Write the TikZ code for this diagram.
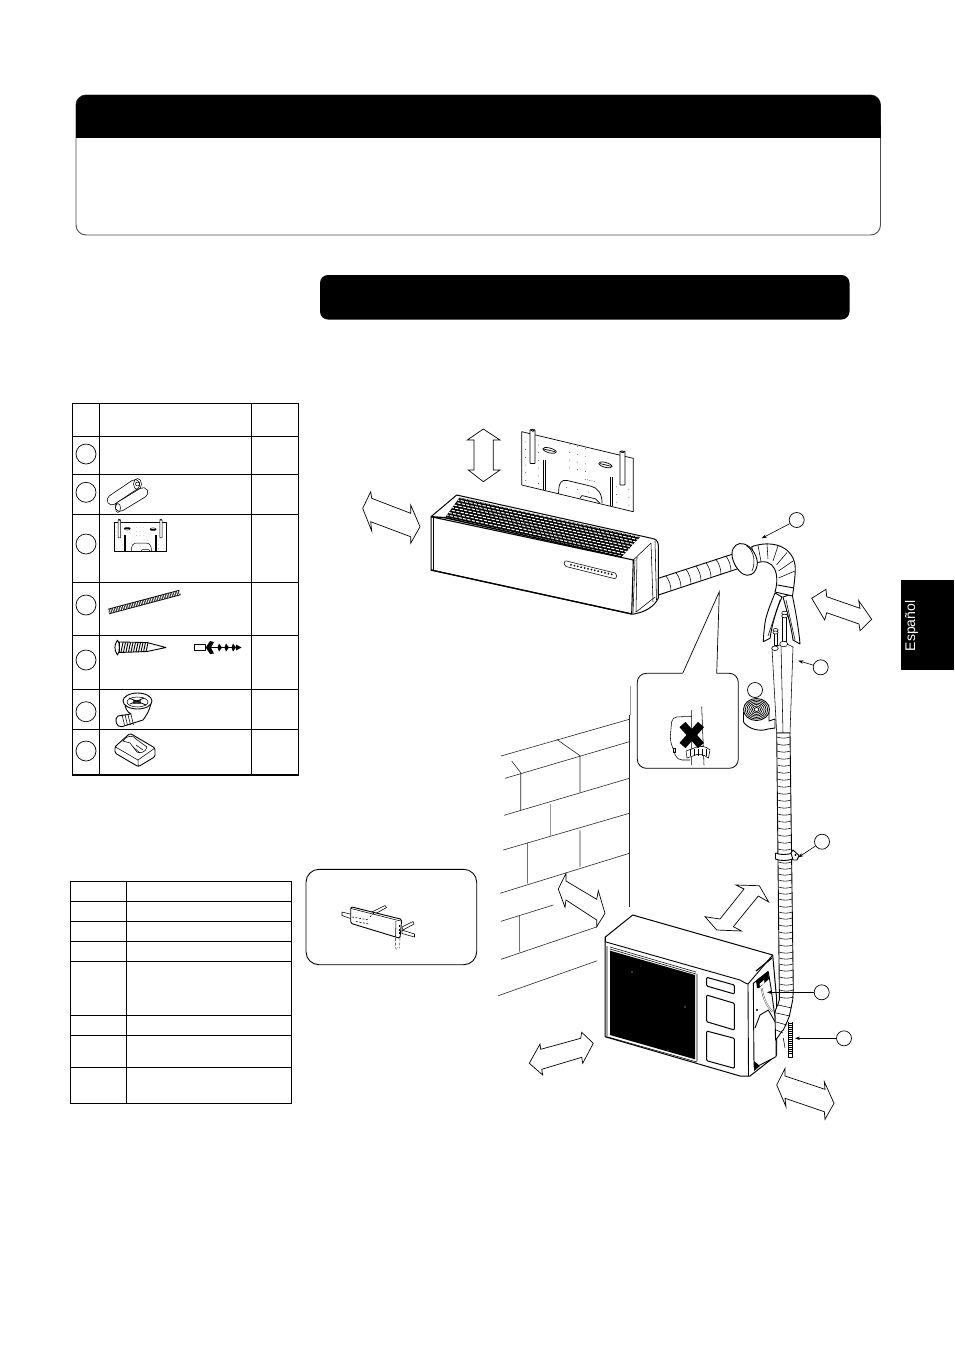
\documentclass[tikz,border=0pt]{standalone}
\usepackage{fontspec}
\setmainfont{Liberation Sans}
\usetikzlibrary{arrows.meta,shapes.geometric}
\tikzset{
  ln/.style={draw=black,line width=0.9pt,line join=round},
  thin ln/.style={draw=black,line width=0.55pt,line join=round},
  grid ln/.style={draw=black,line width=1pt},
  dbl/.style={draw=black,fill=white,line width=0.7pt,line join=miter},
  callout/.style={circle,draw=black,line width=0.7pt,fill=white,minimum size=15pt,inner sep=0pt},
  tcirc/.style={circle,draw=black,line width=0.7pt,fill=white,minimum size=20pt,inner sep=0pt},
  lead/.style={draw=black,line width=0.6pt,-{Stealth[length=5pt,width=3.5pt]}},
  wall/.style={draw=black!85,line width=0.6pt},
}
\newcommand{\plateshape}[2]{%
  \path[draw=black,fill=white,line width=#1pt,line join=round] (0,0.03)--(1,0.03)--(1,1)--(0,1)--cycle;
  \draw[line width=#1pt] (.33,1) .. controls (.33,.78) and (.36,.72) .. (.41,.72) -- (.62,.72) .. controls (.68,.72) and (.72,.80) .. (.72,.98);
  \draw[line width=#1pt] (.52,.99) -- (.54,.93) -- (.66,.93) -- (.70,.99);
  \path[draw=black,fill=white,line width=#1pt,rounded corners=0.5pt] (.075,-.04) rectangle (.12,.55);
  \path[draw=black,fill=white,line width=#1pt,rounded corners=0.5pt] (.88,-.04) rectangle (.925,.55);
  \draw[line width=#1pt,fill=white] (.097,-.04) circle[radius=.016];
  \draw[line width=#1pt,fill=white] (.90,-.04) circle[radius=.016];
  \draw[line width=#1pt] (.195,.45)--(.195,.99) (.215,.45)--(.215,.99) (.79,.47)--(.79,.99) (.81,.47)--(.81,.99);
  \draw[line width=#1pt] (.25,.25) ellipse[x radius=.06,y radius=.045] (.75,.27) ellipse[x radius=.06,y radius=.045];
  \draw[line width=#1pt] (.20,.25)--(.30,.25) (.70,.27)--(.80,.27);
  \foreach \v in {.2,.34,.48,.62,.76,.9}{\fill (.035,\v) circle[radius=#2] (.15,\v) circle[radius=#2];}
  \foreach \v in {.06,.2,.34,.48}{\fill (.43,\v) circle[radius=#2] (.50,\v) circle[radius=#2] (.57,\v) circle[radius=#2];}
  \foreach \v in {.62,.76,.9}{\fill (.85,\v) circle[radius=#2] (.96,\v) circle[radius=#2];}
  \fill (.50,.84) circle[radius=#2] (.40,.85) circle[radius=#2] (.6,.85) circle[radius=#2];
  \foreach \u in {.57,.59,.61,.63,.65}{\fill (\u,.62) circle[radius=#2];}
}
\begin{document}
\begin{tikzpicture}[x=1pt,y=-1pt]
\useasboundingbox (0,0) rectangle (954,1350);
\fill[white] (0,0) rectangle (954,1350);

% header box
\draw[draw=black!70,fill=white,line width=0.9pt,rounded corners=10pt] (76,95) rectangle (880.5,235);
\fill[black,rounded corners=10pt] (76,137) -- (76,95) -- (880.5,95) -- (880.5,137) -- cycle;
\fill[black] (76,125) rectangle (880.5,137.5);
% section bar
\fill[black,rounded corners=8pt] (320,275) rectangle (849.5,319.5);
% language tab
\fill[black] (901,580) rectangle (954,670);
\node[rotate=90,text=white,font=\fontsize{14}{14}\selectfont,inner sep=0] (tab) at (911.5,626) {Español};

% table 1
\draw[grid ln] (72.7,403.3) rectangle (298.3,775);
\draw[grid ln] (99.3,403.3)--(99.3,775) (251.7,403.3)--(251.7,775);
\foreach \yy in {436.3,474.3,514.3,582.3,635,689,729.3}{\draw[grid ln] (72.7,\yy)--(298.3,\yy);}
\draw[black,line width=2pt] (72.7,775)--(298.3,775);
\node[tcirc] (t1) at (86,454) {};
\node[tcirc] (t2) at (86,492.3) {};
\node[tcirc] (t3) at (86,544) {};
\node[tcirc] (t4) at (86,605) {};
\node[tcirc] (t5) at (86,660) {};
\node[tcirc] (t6) at (86,711.7) {};
\node[tcirc] (t7) at (86,751) {};

% batteries
\draw[black,line width=10.5pt,line cap=round] (112,500)--(135,484.5);
\draw[white,line width=9pt,line cap=round] (112,500)--(135,484.5);
\draw[thin ln] (137.5,484) ellipse[x radius=4,y radius=5.5];
\draw[thin ln] (137.5,484) circle[radius=2];
\draw[black,line width=10.5pt,line cap=round] (120,506.5)--(143,492.5);
\draw[white,line width=9pt,line cap=round] (120,506.5)--(143,492.5);
\draw[thin ln] (118,508) ellipse[x radius=2.5,y radius=4.5];
% small plate
\begin{scope}[shift={(114.3,521)},x={(51.7,0)},y={(0,30.7)}]
 \plateshape{0.5}{.005}
\end{scope}
% long screw
\draw[black,line width=5.5pt] (108.5,611.5)--(180,592.5);
\draw[white,line width=3.8pt,dash pattern=on 0.8pt off 0.9pt] (108.5,611.5)--(180,592.5);
% screw
\draw[ln,fill=white] (117.5,640) .. controls (114,645) and (114,650) .. (117.5,655) .. controls (120,653) and (120,642) .. (117.5,640);
\draw[ln,fill=white] (119.5,642) -- (147,642.5) -- (166,647.5) -- (147,651.5) -- (119.5,652.5) -- cycle;
\foreach \xx in {123,125.5,128,130.5,133,135.5,138,140.5,143,145.5,148}{\draw[black,line width=0.9pt] (\xx,642.5)--(\xx-2,652);}
% anchor
\draw[thin ln] (194.3,644.3) rectangle (205.7,650.7);
\draw[black,line width=1.4pt] (205.7,647.5)--(240,647.5);
\fill (241.5,647.5)--(236,644.5)--(236,650.5)--cycle;
\fill (205.7,647.5)--(210,641)--(214,642)--(211,647.5)--(214,653.5)--(210,654)--cycle;
\foreach \xx in {219,226,233}{\fill (\xx,643.5)--(\xx+3,647.5)--(\xx,651.5)--(\xx-1.5,647.5)--cycle;}
% drain elbow
\draw[ln,fill=white] (125,703) .. controls (125,708) and (127,712) .. (131,714) -- (118,716) .. controls (114,718) and (116,728) .. (121.7,726.7) -- (143,720)
  .. controls (146,716) and (150,710) .. (151,703) -- cycle;
\foreach \xx in {122,125,128,131}{\draw[thin ln] (\xx,714.5)--(\xx+2.5,725);}
\draw[ln,fill=white] (137.5,701) ellipse[x radius=14.5,y radius=8];
\draw[thin ln] (137.5,702) ellipse[x radius=10.5,y radius=5];
\fill[black!70] (133,700) rectangle (141,704);
\draw[black,line width=0.8pt] (129,698)--(146,705) (130,704)--(144,698);
% clip
\draw[ln,fill=white,rounded corners=1.5pt] (115,746.7) -- (130,733.3) -- (155,748) -- (155,756.7) -- (138.3,766.7) -- (115,753) -- cycle;
\draw[thin ln] (115,746.7) -- (138,760) -- (155,748) (138,760)--(138.3,766.7);
\draw[thin ln,fill=white] (123,741) .. controls (126,735) and (134,735) .. (136,739) -- (147,747) .. controls (146,752) and (140,754) .. (137,752) -- (130,743) -- cycle;
\draw[thin ln] (133,747)--(140,753) (136,745)--(143,750);

% table 2
\draw[grid ln] (70.7,881.7) rectangle (291.3,1103.3);
\draw[grid ln] (126.7,881.7)--(126.7,1103.3);
\foreach \yy in {901.3,921.3,941.3,961.3,1015.3,1035.3,1067.3}{\draw[grid ln] (70.7,\yy)--(291.3,\yy);}

% small piping box
\draw[draw=black,line width=0.9pt,rounded corners=13pt] (306,869.3) rectangle (476.7,964.7);
\begin{scope}
 \draw[thin ln,fill=white] (342,915.5)--(352,919) -- (352,914.5) -- (342,912) -- cycle;
 \draw[thin ln,fill=white] (372,912)--(385,905.5)--(386.5,907.5)--(375,914) -- cycle;
 \draw[thin ln,fill=white] (402,927) -- (413,921.5) -- (414,924) -- (403,930) -- cycle;
 \draw[thin ln,fill=white] (402,930) -- (414.5,934) -- (414.5,937) -- (402,933.5) -- cycle;
 \draw[ln,fill=white,rounded corners=1.5pt] (350.7,906.7) -- (401.7,919.3) -- (400,938.3) -- (350.7,923.3) -- cycle;
 \draw[thin ln] (351,908.5) -- (400.5,921);
 \draw[thin ln] (396,921)--(395.5,936.5);
 \draw[thin ln,dash pattern=on 2pt off 1.5pt] (352,917)--(369,920) (356,921.5)--(369,924) (370,917)--(374,913);
 \draw[thin ln,dash pattern=on 2pt off 1.5pt] (399.5,925)--(399.5,935);
 \draw[thin ln,draw=black!60,dash pattern=on 3pt off 1.5pt] (395.5,938)--(395.5,946) .. controls (395,950) and (397,950) .. (398,947);
 \draw[thin ln,draw=black!60,dash pattern=on 3pt off 1.5pt] (400,938)--(399.5,948);
\end{scope}

% wall
\draw[wall,draw=black!40] (630,686)--(630,715);
\draw[wall] (629.5,715)--(629.5,906.7);
\draw[wall] (501,756)--(629.3,719.3) (505,778.3)--(629.3,741.7) (504,815.3)--(629.3,778.3)
  (503.3,850)--(629.3,813.3) (500,893.3)--(629.3,853.3) (501,921.3)--(553.3,905)
  (501,959.3)--(597.3,926.7) (498.3,995.7)--(597.3,960.7);
\draw[wall] (556.7,739.3)--(580,755.7)--(580,792.7) (511.7,761)--(520.7,772.7)--(520.7,810)
  (527.3,842.7)--(527.3,883.3) (580,830.7)--(580,866.7) (519.3,916)--(519.3,951.7);
\draw[wall,draw=black!40] (550,804)--(550,836.7);

% wall plate (indoor)
\begin{scope}[shift={(521.7,430)},x={(111.6,26.7)},y={(0,55)}]
 \plateshape{0.7}{.005}
\end{scope}

% indoor unit
\draw[ln,line width=1pt,fill=white] (431,516.7) -- (456.7,495) -- (651.7,538.3) .. controls (656,539) and (658,541) .. (658.3,545)
  -- (658.3,598) .. controls (655,606) and (645,612) .. (636,613.5) .. controls (634,614.5) and (632,614) .. (631.7,614) -- (431,570) -- cycle;
\draw[line width=1.3pt,black] (431,570) -- (631.7,614);
\draw[line width=1.1pt,black] (431,516.7) -- (633.3,560) -- (631.7,614);
\draw[thin ln] (635,560)--(633,613) (637,557)--(636,612);
\draw[thin ln] (633.3,560) -- (651,543) -- (653,602);
\draw[thin ln] (655,541)--(656.5,600);
\draw[thin ln] (636,612)--(645,605) -- (655,597);
\draw[thin ln] (433,517.5)--(433,569.5);
% grille
\begin{scope}
 \clip (459.5,497.5) -- (640,537) -- (621.5,557) -- (445,517.7) -- cycle;
 \fill[black] (459.5,497.5) -- (640,537) -- (621.5,557) -- (445,517.7) -- cycle;
 \foreach \j in {0,...,8}{
   \draw[white,line width=1.1pt,dash pattern=on 3.2pt off 1.3pt,dash phase={mod(\j,3)*1.5pt}]
     ({459.5-\j*1.8},{497.5+\j*2.5}) -- ++(185,40.6);}
\end{scope}
\draw[line width=1.4pt] (431,516.7)--(445,517.7) (445,517.7)--(621.5,557);
% display
\draw[thin ln,rounded corners=2pt] (564.5,560.5) -- (617,573.5) -- (616,579) -- (564,566) -- cycle;
\foreach \i in {0,...,12}{\fill ({571+\i*3.4},{564.8+\i*0.8}) circle[radius=1];}

% connecting pipe
\draw[ln,fill=white] (658.3,578.3) -- (733,554) -- (740,568) -- (658.3,595) -- cycle;
\foreach \xx/\yy in {666/576,676/572.7,686/569.4,696/566.1,706/562.8,716/559.5,726/556.2}{
  \draw[thin ln] (\xx,\yy) .. controls (\xx+3,\yy+4) and (\xx+5,\yy+9) .. (\xx+5,\yy+15);}
\node[draw=black,line width=0.9pt,fill=white,ellipse,inner sep=0,minimum width=9pt,minimum height=14pt] (pe) at (739,561) {};

% pipes & flaps
\draw[thin ln,fill=white] (772,648) -- (776.7,733) -- (790,733) -- (793,647) -- (785,643) -- cycle;
\draw[thin ln] (781,645)--(783,733);
\draw[ln,fill=white] (775,593) .. controls (771,603) and (766,615) .. (765,623) .. controls (764,630) and (763.5,636) .. (763.3,641.7)
  -- (770,638.3) .. controls (772,625) and (776,610) .. (782,597) -- cycle;
\draw[thin ln] (768,636)--(773,621) -- (780,600);
\draw[ln,fill=white] (783,597) .. controls (786,608) and (791,625) .. (793,640) -- (800,644) .. controls (799,632) and (796,612) .. (792,594) -- cycle;
\draw[thin ln] (786,600) -- (795,640);
\draw[thin ln,fill=white] (782.7,613) rectangle (786.7,641);
\draw[thin ln,fill=white] (784.7,613) ellipse[x radius=3,y radius=1.8];
\draw[thin ln,fill=white] (784.7,616) ellipse[x radius=3,y radius=1.8];
\draw[thin ln,fill=white] (774,630) rectangle (777,645);
\draw[thin ln,fill=white] (775.5,630) ellipse[x radius=2.6,y radius=1.5];
\draw[thin ln,fill=white] (775.5,632.5) ellipse[x radius=2.6,y radius=1.5];
\draw[thin ln,fill=white] (775,648.3) ellipse[x radius=3.3,y radius=2.3];
\draw[thin ln,fill=white] (783.7,644) ellipse[x radius=4,y radius=2.8];

% elbow
\draw[ln,fill=white] (751.7,546.7) .. controls (770,540) and (792,545) .. (795,565) .. controls (796,572) and (794,585) .. (792.5,596)
  -- (775,592) .. controls (780,575) and (775,556) .. (755,563.3) -- cycle;
\foreach \xa/\ya/\xb/\yb in {758/545.5/761/561.5,767/544/768/559,778/546/773/561,787/552.5/776.5/565,793/561/778.5/571,795/571/778.5/578}{
  \draw[thin ln] (\xa,\ya) -- (\xb,\yb);}
\draw[ln] (777.5,585) -- (794,588);
\draw[ln,fill=white] (732,554) .. controls (732,546) and (738,542) .. (744,544) .. controls (752,546) and (759,558) .. (757,566)
  .. controls (755,575) and (748,577) .. (743,574) .. controls (738,571) and (732,562) .. (732,554) -- cycle;
\draw[thin ln] (746,545.5) .. controls (754,550) and (756,562) .. (752,571);

% coil
\draw[ln,fill=white] (743.5,712) -- (743.5,722) .. controls (748,729) and (760,732) .. (768,729) -- (775,728) -- (775,719) -- (769,721)  -- (769,711) -- cycle;
\draw[ln,fill=white] (756.5,709.5) ellipse[x radius=13,y radius=11];
\foreach \r in {2,3.5,5,6.5,8,9.5}{\draw[black,line width=0.7pt] (756.5,709.5) ellipse[x radius={\r*1.18},y radius=\r];}
\node[callout] (c3) at (755,690) {};

% indoor bubble
\draw[draw=black,line width=0.8pt,fill=white,rounded corners=9pt]
  (682.7,673.3) -- (637.3,673.3) -- (637.3,768.3) -- (738.3,768.3) -- (738.3,673.3) -- (716.7,673.3);
\coordinate (apex) at (719.3,591.7);
\draw[black,line width=0.7pt] (682.7,673.3) -- (apex) -- (716.7,673.3);
\draw[thin ln,rounded corners=5pt] (691.5,716.5) -- (672,717) -- (670,740) -- (677,760) -- (690,760);
\draw[thin ln] (691.7,710)--(691.7,765) (701.7,706.7)--(704,765);
\draw[thin ln] (673,748) rectangle (675,752);
\draw[thin ln,fill=white] (686,751) -- (693,748.5) .. controls (700,745) and (706,746) .. (710,750) -- (708.5,758) .. controls (703,754) and (698,753) .. (693,756) -- (687,758) -- cycle;
\foreach \xx in {690,694,698,702,706}{\draw[thin ln] (\xx,749)--(\xx,756);}
\draw[black,line width=8pt] (682.5,724.5)--(701,745.5) (701,724.5)--(682.5,745.5);

% outdoor unit
\draw[ln,line width=1pt,fill=white] (605,937.3) -- (632.7,915) -- (772.7,955) -- (776.7,1000) -- (776.7,1055) -- (750,1076) -- (740,1076) -- (605,1036.7) -- cycle;
\draw[ln] (605,941.7) -- (740,980) .. controls (745,983) and (747,984) .. (748,984) -- (772.7,955);
\draw[ln] (605,937.3) -- (605,941.7);
\draw[ln] (748,984)--(748.5,1076);
\draw[thin ln] (610,947)--(696,972) (610,949)--(696,974);
\fill[black] (610,950.7) -- (695,975) -- (695,1059.3) -- (610,1035) -- cycle;
\draw[thin ln] (607,946)--(607,1038) (697,974)--(697,1061) (608,1037)--(697,1062);
\fill[white] (632,972) circle[radius=0.7] (685,1007) circle[radius=0.6] (668,1050) circle[radius=0.5];
\draw[ln,line width=1pt,rounded corners=1pt] (706.7,977.3) -- (734.3,985) -- (734.3,994) -- (706.7,986) -- cycle;
\draw[ln,line width=1pt,rounded corners=1pt] (706.7,995) -- (734.3,1003.3) -- (734.3,1030) -- (706.7,1021.7) -- cycle;
\draw[ln,line width=1pt,rounded corners=1pt] (706.7,1031) -- (734.3,1038.3) -- (734.3,1068.3) -- (706.7,1060.7) -- cycle;
% valve cover
\draw[ln,fill=white] (753.3,983.3) -- (768.3,971.7) -- (771,988) -- (774,1010) -- (776,1022) -- (776,1056.7) -- (760,1065) -- (754,1066.7) -- cycle;
\draw[ln] (755,1028) -- (760,1015) -- (768.3,1010) -- (775,1021.7);
\fill[black] (756,980.5) -- (768,971) -- (769,979) -- (759,988) -- (757,988) -- cycle;
\fill[white] (759.5,984) -- (764,980) -- (764.5,983) -- (760,986.5) -- cycle;
\draw[black!60,line width=1.8pt] (761.7,988) .. controls (763,998) and (767,1007) .. (773,1011.7);
\draw[white,line width=0.7pt] (761.7,988) .. controls (763,998) and (767,1007) .. (773,1011.7);
\fill[black] (754,1061) -- (760,1066) -- (754,1071) -- cycle;
\fill[black] (757,1010) circle[radius=1.2];
\draw[black,line width=1.2pt] (772,958)--(756,971);

% hose
\draw[ln,fill=white] (776.7,733) -- (779.3,990) -- (779.3,1000) .. controls (778,1006) and (775,1009) .. (775,1013) -- (775.5,1040) .. controls (780,1035) and (782,1030) .. (783.3,1030)
  .. controls (786,1024) and (790,1016) .. (790,1013) -- (792.7,1000) -- (793.3,990) -- (790,733) -- cycle;
\foreach \yy in {737,744,751,758,765,772,779,786,793,800,807,814,821,828,835,842,849,862,868,874,880,887,893,899,906,912,918,925,932,938,945,952,958,964,970,977,984,990,997}{
  \draw[thin ln] ({777+(\yy-733)*0.0102},\yy) .. controls ({781+(\yy-733)*0.0102},\yy+1.5) and ({786+(\yy-733)*0.0128},\yy+1.5) .. ({790+(\yy-733)*0.0128},\yy);}
\draw[thin ln] (778,1005) -- (792,1008) (776,1013) -- (790,1016) (776,1022)--(787,1025) (776,1030)--(783,1033);
% clamp
\draw[ln,fill=white] (775.5,853) -- (775.5,859) .. controls (780,861) and (787,861) .. (792.5,859) -- (792.5,853) .. controls (787,855) and (780,855) .. (775.5,853);
\draw[ln,fill=white] (793,850) -- (799,855.5) -- (797,860) -- (793,860) -- (791,853) -- cycle;
\fill (795.5,855) circle[radius=1.2];
% drain hose
\draw[thin ln] (783.3,1038)--(785,1048);
\draw[black,line width=5.5pt] (790.5,1021.7)--(790.5,1055);
\draw[white,line width=3.8pt,dash pattern=on 1pt off 1pt] (790.5,1021.7)--(790.5,1055);
\draw[thin ln] (788.5,1055) -- (788.5,1057.5) -- (792.5,1057.5) -- (792.5,1055);

% callouts
\node[callout] (c1) at (796.7,520) {};
\node[callout] (c2) at (820.7,667.3) {};
\node[callout] (c4) at (822,841.7) {};
\node[callout] (c5) at (821.7,992.3) {};
\node[callout] (c6) at (844,1038.3) {};
\coordinate (p1) at (761.7,538.3);
\coordinate (p2) at (798.3,660.7);
\coordinate (p4) at (798.3,857.3);
\coordinate (p5) at (767,992.3);
\coordinate (p6) at (795,1038.3);
\draw[lead] (c1) -- (p1);
\draw[lead] (c2) -- (p2);
\draw[lead] (c4) -- (p4);
\draw[lead] (c5) -- (p5);
\draw[lead] (c6) -- (p6);

% double arrows
\draw[dbl] (483.3,429)--(500,440)--(493.3,440)--(493.3,470)--(500,470)--(483.3,481.7)--(468.3,470)--(474,470)--(474,440)--(467.3,440)--cycle;
\draw[dbl] (362.7,508.3)--(370.7,491.7)--(371.7,498.3)--(410.7,513.3)--(410.7,505)--(420,526.7)--(410.7,543.3)--(410.7,536.7)--(370.7,521.7)--(371.7,531)--cycle;
\draw[dbl] (811.7,598.3)--(826,589.3)--(826.7,596.7)--(860,608.3)--(858.7,600.7)--(871.7,619.3)--(860,630.7)--(859,624)--(826.7,612.7)--(824.7,620)--cycle;
\draw[dbl] (558.3,889)--(566,873.3)--(566,881)--(596.7,899.3)--(598.3,890.7)--(605,913.3)--(596.7,926.7)--(596.7,920)--(566,900)--(565,907.3)--cycle;
\draw[dbl] (705,916.7)--(720,919)--(744,889)--(736,885)--(759.3,885.7)--(768.7,902)--(758.3,896)--(733.3,926.7)--(741.7,931)--(716.7,930)--cycle;
\draw[dbl] (529.3,1063.3)--(540,1044)--(540.7,1049.3)--(580.7,1038.3)--(581.7,1032.3)--(593.3,1043.3)--(582.7,1063.3)--(581.7,1057.3)--(541.7,1069.3)--(542.7,1075)--cycle;
\draw[dbl] (776.7,1085)--(785,1068.3)--(785,1076)--(825,1089.3)--(824.3,1081.7)--(834,1103.3)--(825,1119.3)--(824.3,1111.7)--(785,1098.3)--(786,1106.7)--cycle;
\end{tikzpicture}
\end{document}
